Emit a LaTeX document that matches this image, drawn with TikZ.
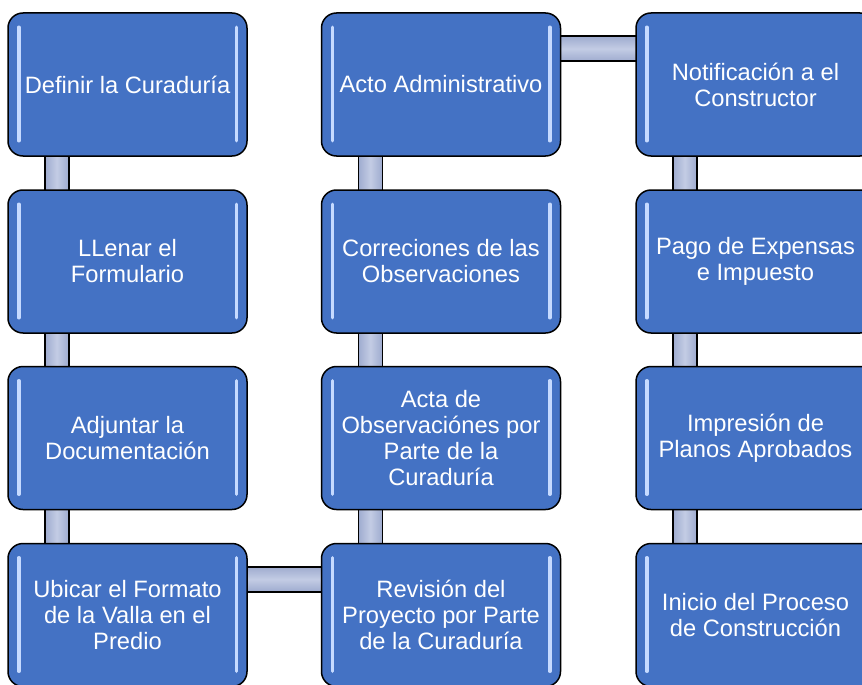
\documentclass[tikz,border=0pt]{standalone}
\usepackage{fontspec}
\setmainfont{Liberation Sans}
\usetikzlibrary{calc,backgrounds}
\definecolor{boxblue}{HTML}{4472C4}
\definecolor{barfill}{HTML}{C3CCE4}
\definecolor{bardark}{HTML}{9EABCF}
\definecolor{shine}{HTML}{C6DAFF}
\tikzset{
  stepbox/.style={draw=black, line width=1.5pt, fill=boxblue, rounded corners=15pt,
    minimum width=239pt, minimum height=143pt, inner sep=0pt, text=white, align=center,
    font=\fontsize{23.7}{26}\selectfont},
  vbar/.style={draw=black, line width=1.5pt, left color=bardark, right color=bardark, middle color=barfill},
  hbar/.style={draw=black, line width=1.5pt, top color=bardark, bottom color=bardark, middle color=barfill},
  gloss/.style={draw=shine, line width=3.5pt, line cap=round}
}
\begin{document}
\begin{tikzpicture}[x=1pt,y=-1pt]
\clip (0,0) rectangle (862,685);
\node[stepbox] (n1) at (127.5,84.5) {Definir la Curaduría};
\node[stepbox] (n2) at (127.5,261.5) {LLenar el\\Formulario};
\node[stepbox] (n3) at (127.5,438) {Adjuntar la\\Documentación};
\node[stepbox] (n4) at (127.5,615) {Ubicar el Formato\\de la Valla en el\\Predio};
\node[stepbox] (n5) at (441,615) {Revisión del\\Proyecto por Parte\\de la Curaduría};
\node[stepbox] (n6) at (441,438) {Acta de\\Observaciónes por\\Parte de la\\Curaduría};
\node[stepbox] (n7) at (441,261.5) {Correciones de las\\Observaciones};
\node[stepbox] (n8) at (441,84.5) {Acto Administrativo};
\node[stepbox] (n9) at (755.5,84.5) {Notificación a el\\Constructor};
\node[stepbox] (n10) at (755.5,261.5) {Pago de Expensas\\e Impuesto};
\node[stepbox] (n11) at (755.5,438) {Impresión de\\Planos Aprobados};
\node[stepbox] (n12) at (755.5,615) {Inicio del Proceso\\de Construcción};
\begin{scope}[on background layer]
  \fill[white] (0,0) rectangle (862,685);
  \foreach \a/\b in {n1/n2,n2/n3,n3/n4,n5/n6,n6/n7,n7/n8,n9/n10,n10/n11,n11/n12}{
    \draw[vbar] ($(\a.south west)+(37.5,-2)$) rectangle ($(\b.north west)+(61.5,2)$);
  }
  \draw[hbar] ($(n4.north east)+(-2,24)$) rectangle ($(n5.north west)+(2,49)$);
  \draw[hbar] ($(n8.north east)+(-2,24)$) rectangle ($(n9.north west)+(2,49)$);
\end{scope}
\foreach \n in {n1,n2,n3,n4,n5,n6,n7,n8,n9,n10,n11,n12}{
  \draw[gloss] ($(\n.north west)+(11.5,15)$) -- ($(\n.south west)+(11.5,-16)$);
  \draw[gloss] ($(\n.north east)+(-11.5,15)$) -- ($(\n.south east)+(-11.5,-16)$);
}
\end{tikzpicture}
\end{document}
